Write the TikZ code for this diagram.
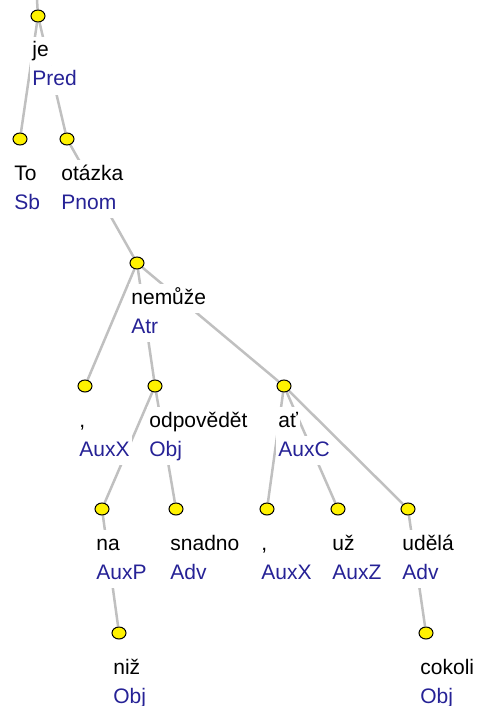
\documentclass[tikz,border=0pt]{standalone}
\usepackage{fontspec}
\setmainfont{Liberation Sans}
\usetikzlibrary{shapes.geometric,backgrounds}
\definecolor{edgegray}{RGB}{192,192,192}
\definecolor{afunblue}{RGB}{38,34,150}
\tikzset{
  dot/.style={ellipse, draw=black, line width=0.5pt, fill=yellow, inner sep=0pt, minimum width=7pt, minimum height=6pt},
  edge/.style={draw=edgegray, line width=1.25pt},
  lab/.style={anchor=base west, fill=white, inner xsep=1pt, inner ysep=0pt, text height=10pt, text depth=4.5pt, font=\fontsize{10.5}{12}\selectfont},
  word/.style={lab, xshift=-4pt, yshift=-20.5pt},
  afun/.style={lab, text=afunblue, yshift=-14.5pt}
}
\begin{document}
\begin{tikzpicture}[x=0.5pt, y=-0.5pt]
\useasboundingbox (0,0) rectangle (478,706);
\coordinate (tidtop) at (37,0);
\node[dot] (tid0) at (38,16){};
\node[word] (tid0w) at (tid0){je};
\node[afun] (tid0f) at (tid0w.base west){Pred};
\node[dot] (tid1) at (20,139){};
\node[word] (tid1w) at (tid1){To};
\node[afun] (tid1f) at (tid1w.base west){Sb};
\node[dot] (tid2) at (67,139){};
\node[word] (tid2w) at (tid2){otázka};
\node[afun] (tid2f) at (tid2w.base west){Pnom};
\node[dot] (tid3) at (137,263){};
\node[word] (tid3w) at (tid3){nemůže};
\node[afun] (tid3f) at (tid3w.base west){Atr};
\node[dot] (tid4) at (85,386){};
\node[word] (tid4w) at (tid4){,};
\node[afun] (tid4f) at (tid4w.base west){AuxX};
\node[dot] (tid5) at (155,386){};
\node[word] (tid5w) at (tid5){odpovědět};
\node[afun] (tid5f) at (tid5w.base west){Obj};
\node[dot] (tid6) at (284,386){};
\node[word] (tid6w) at (tid6){ať};
\node[afun] (tid6f) at (tid6w.base west){AuxC};
\node[dot] (tid7) at (102,509){};
\node[word] (tid7w) at (tid7){na};
\node[afun] (tid7f) at (tid7w.base west){AuxP};
\node[dot] (tid8) at (119,633){};
\node[word] (tid8w) at (tid8){niž};
\node[afun] (tid8f) at (tid8w.base west){Obj};
\node[dot] (tid9) at (176,509){};
\node[word] (tid9w) at (tid9){snadno};
\node[afun] (tid9f) at (tid9w.base west){Adv};
\node[dot] (tid10) at (267,509){};
\node[word] (tid10w) at (tid10){,};
\node[afun] (tid10f) at (tid10w.base west){AuxX};
\node[dot] (tid11) at (338,509){};
\node[word] (tid11w) at (tid11){už};
\node[afun] (tid11f) at (tid11w.base west){AuxZ};
\node[dot] (tid12) at (408,509){};
\node[word] (tid12w) at (tid12){udělá};
\node[afun] (tid12f) at (tid12w.base west){Adv};
\node[dot] (tid13) at (426,633){};
\node[word] (tid13w) at (tid13){cokoli};
\node[afun] (tid13f) at (tid13w.base west){Obj};
\begin{scope}[on background layer]
\draw[edge](tidtop) -- (tid0);
\draw[edge](tid0) -- (tid1);
\draw[edge](tid0) -- (tid2);
\draw[edge](tid2) -- (tid3);
\draw[edge](tid3) -- (tid4);
\draw[edge](tid3) -- (tid5);
\draw[edge](tid3) -- (tid6);
\draw[edge](tid5) -- (tid7);
\draw[edge](tid7) -- (tid8);
\draw[edge](tid5) -- (tid9);
\draw[edge](tid6) -- (tid10);
\draw[edge](tid6) -- (tid11);
\draw[edge](tid6) -- (tid12);
\draw[edge](tid12) -- (tid13);
\end{scope}
\end{tikzpicture}
\end{document}
